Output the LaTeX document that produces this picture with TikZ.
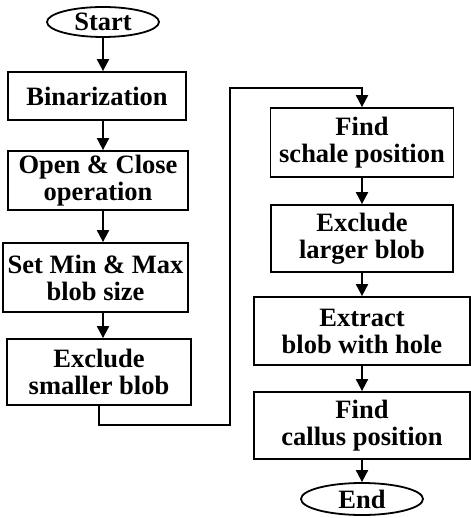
\documentclass[tikz,border=0pt]{standalone}
\usepackage{fontspec}
\setmainfont{Liberation Serif}
\usetikzlibrary{shapes.geometric,arrows.meta,positioning}

\begin{document}
\begin{tikzpicture}[x=1pt,y=1pt,
  stepbox/.style={rectangle, draw, line width=1.8pt, fill=white, minimum width=182pt, align=center, inner sep=2pt, font=\fontsize{26.5}{27}\selectfont\bfseries},
  terminal/.style={ellipse, draw, line width=1.8pt, fill=white, inner sep=0pt, font=\fontsize{26.5}{27}\selectfont\bfseries},
  flow/.style={-{Triangle[length=12pt,width=12pt]}, line width=2pt}]
\useasboundingbox (0,0) rectangle (470,-518);

% left column
\node[terminal, minimum width=112pt, minimum height=30pt] (start) at (103,-22) {Start};
\node[stepbox, minimum width=178pt, minimum height=48pt] (bin) at (97,-96) {Binarization};
\node[stepbox, minimum width=180pt, minimum height=59pt] (open) at (98,-180.5) {Open \& Close\\operation};
\node[stepbox, minimum width=185pt, minimum height=69pt] (minmax) at (95.5,-277.5) {Set Min \& Max\\blob size};
\node[stepbox, minimum width=184pt, minimum height=66pt] (small) at (99,-372) {Exclude\\smaller blob};

% right column
\node[stepbox, minimum width=183pt, minimum height=69pt] (schale) at (362,-142.5) {Find\\schale position};
\node[stepbox, minimum width=182pt, minimum height=67pt] (large) at (362,-238.5) {Exclude\\larger blob};
\node[stepbox, minimum width=216pt, minimum height=68pt] (hole) at (362,-331) {Extract\\blob with hole};
\node[stepbox, minimum width=216pt, minimum height=67pt] (callus) at (362,-425.5) {Find\\callus position};
\node[terminal, minimum width=122pt, minimum height=32pt] (end) at (362,-499) {End};

% bends of the link between the two columns
\coordinate (turnA) at (230,-425);
\coordinate (turnB) at (230,-88);

\draw[flow] (start.south) -- (start.south |- bin.north);
\draw[flow] (bin.south -| start) -- (start |- open.north);
\draw[flow] (open.south -| start) -- (start |- minmax.north);
\draw[flow] (minmax.south -| start) -- (start |- small.north);
\draw[flow] (small.south) |- (turnA) -- (turnB) -| (schale.north);
\draw[flow] (schale) -- (large);
\draw[flow] (large) -- (hole);
\draw[flow] (hole) -- (callus);
\draw[flow] (callus) -- (end);
\end{tikzpicture}
\end{document}
